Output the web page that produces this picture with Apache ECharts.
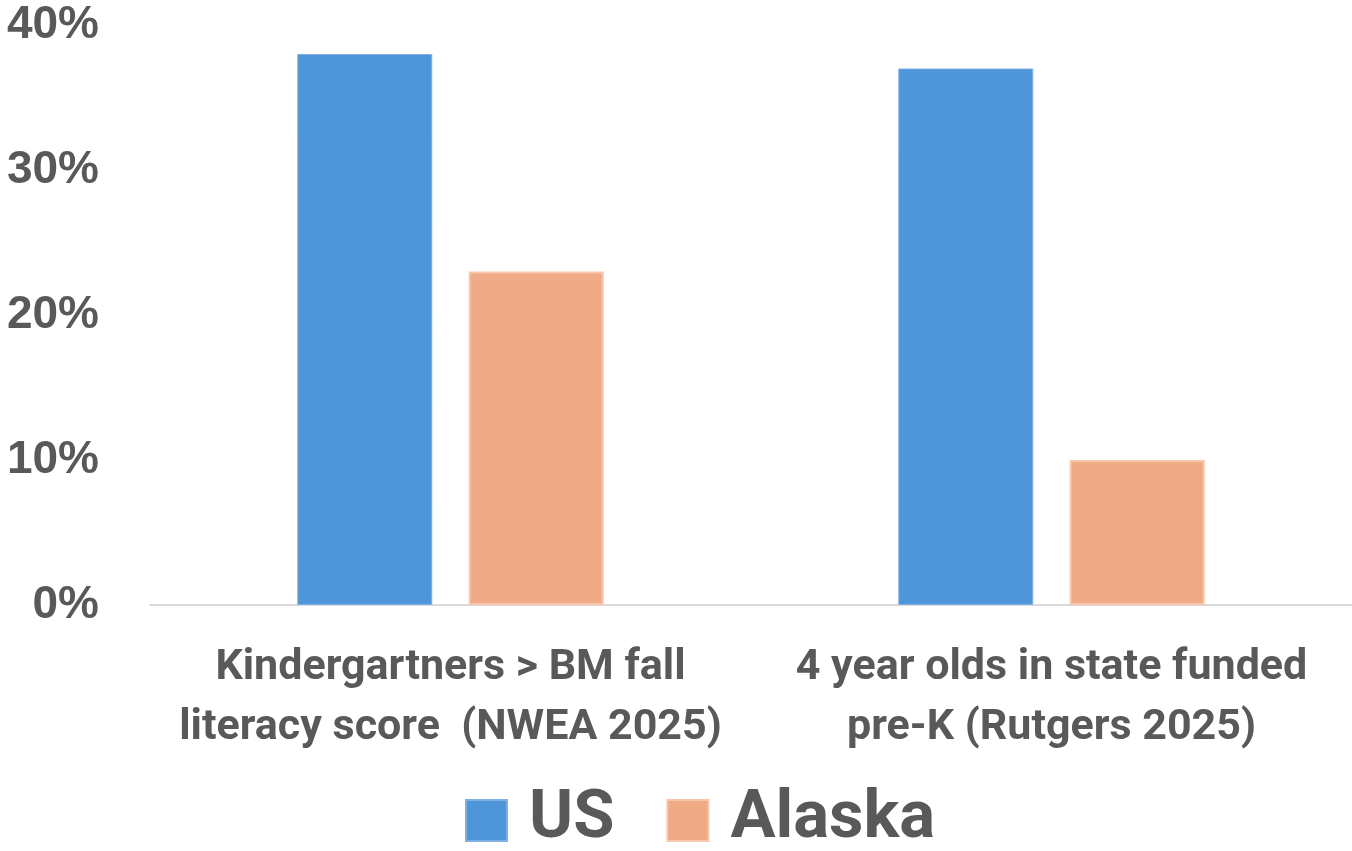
<!DOCTYPE html>
<html>
<head>
<meta charset="utf-8">
<script src="https://cdn.jsdelivr.net/npm/echarts@6/dist/echarts.min.js"></script>
<style>
  html, body { margin: 0; padding: 0; background: #fff; }
  #chart { width: 1352px; height: 851px; }
</style>
</head>
<body>
<div id="chart"></div>
<script>
// data
const categories = [
  'Kindergartners > BM fall\nliteracy score  (NWEA 2025)',
  '4 year olds in state funded\npre-K (Rutgers 2025)'
];
const usValues = [38, 37];
const alaskaValues = [23, 10];
const yTicks = [0, 10, 20, 30, 40];

const textColor = '#595959';

const chart = echarts.init(document.getElementById('chart'));
chart.setOption({
  animation: false,
  grid: { left: 150, right: 0, top: 25, bottom: 246 },
  legend: {
    top: 782,
    left: 460,
    icon: 'rect',
    itemWidth: 41,
    itemHeight: 41,
    itemGap: 52,
    textStyle: { color: textColor, fontSize: 67, fontWeight: 'bold', fontFamily: 'Roboto, sans-serif', padding: [0, 0, 0, 17] },
    data: ['US', 'Alaska']
  },
  xAxis: {
    type: 'category',
    data: categories,
    axisLine: { lineStyle: { color: '#d9d9d9', width: 2 } },
    axisTick: { show: false },
    axisLabel: {
      color: textColor,
      fontSize: 43,
      fontWeight: 'bold',
      fontFamily: 'Roboto, sans-serif',
      lineHeight: 60,
      margin: 33,
      interval: 0
    }
  },
  yAxis: {
    type: 'value',
    min: yTicks[0],
    max: yTicks[yTicks.length - 1],
    interval: 10,
    splitLine: { show: false },
    axisLine: { show: false },
    axisLabel: {
      color: textColor,
      fontSize: 46,
      fontWeight: 'bold',
      fontFamily: 'Liberation Sans, Arial, sans-serif',
      margin: 51,
      formatter: '{value}%'
    }
  },
  series: [
    {
      name: 'US',
      type: 'bar',
      data: usValues,
      barWidth: 135,
      barGap: '27%',
      itemStyle: { color: '#4f95da', borderColor: '#7fb0e4', borderWidth: 1 }
    },
    {
      name: 'Alaska',
      type: 'bar',
      data: alaskaValues,
      barWidth: 135,
      itemStyle: { color: '#f0aa85', borderColor: '#f8c6ab', borderWidth: 2 }
    }
  ]
});
</script>
</body>
</html>
